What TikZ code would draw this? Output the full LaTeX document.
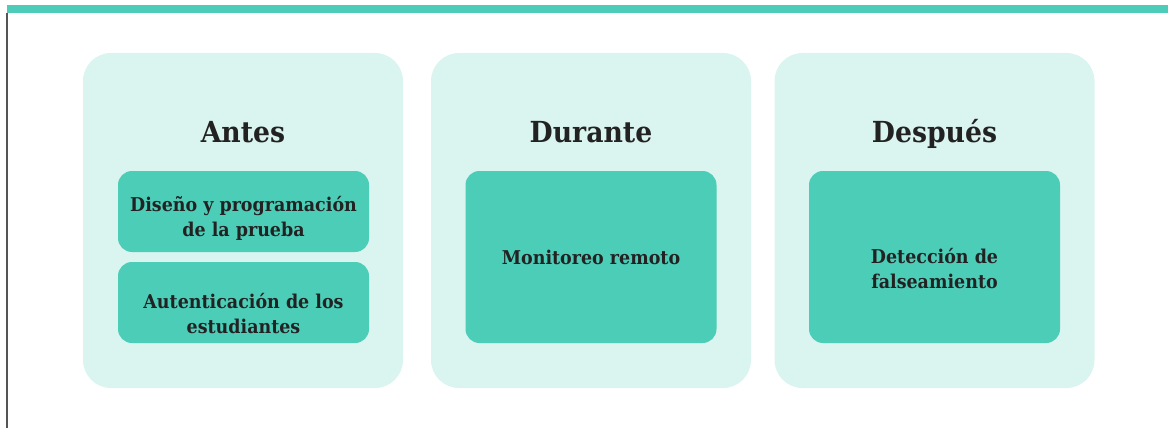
\documentclass[tikz,border=0pt]{standalone}
\usepackage{fontspec}
\newfontfamily\slab[FakeStretch=0.92]{DejaVu Serif}
\definecolor{teal}{HTML}{4DCDB9}
\definecolor{panelbg}{HTML}{DAF4EF}
\definecolor{cardbg}{HTML}{4BCDB8}
\definecolor{ink}{HTML}{222222}
\definecolor{rule}{HTML}{555555}
\tikzset{
  panel/.style={fill=panelbg, rounded corners=28pt, minimum width=320pt, minimum height=335pt, inner sep=0pt},
  card/.style={fill=cardbg, rounded corners=14pt, minimum width=251pt, inner sep=0pt},
  heading/.style={text=ink, font=\slab\bfseries\fontsize{29}{34}\selectfont, anchor=base, inner sep=0pt},
  cardtext/.style={text=ink, font=\slab\bfseries\fontsize{19}{25}\selectfont, align=center, inner sep=0pt}
}
\begin{document}
\begin{tikzpicture}[x=1pt, y=-1pt]
  \useasboundingbox (0,0) rectangle (1168,428);
  % top band and left rule
  \fill[teal] (7,5) rectangle (1168,13);
  \draw[rule, line width=1.5pt] (7,13) -- (7,428);

  % three phase panels
  \node[panel] (p1) at (243,220.5) {};
  \node[panel] (p2) at (591,220.5) {};
  \node[panel] (p3) at (934.5,220.5) {};

  \node[heading] (t1) at (243,142) {Antes};
  \node[heading] (t2) at (591,142) {Durante};
  \node[heading] (t3) at (934.5,142) {Después};

  % cards
  \node[card, minimum height=81pt] (c1) at (243.5,211.5) {};
  \node[card, minimum height=81pt] (c2) at (243.5,302.5) {};
  \node[card, minimum height=172pt] (c3) at (591,257) {};
  \node[card, minimum height=172pt] (c4) at (934.5,257) {};

  \node[cardtext] (l1) at ([yshift=-7pt]c1.center) {Diseño y programación\\de la prueba};
  \node[cardtext] (l2) at ([yshift=-11pt]c2.center) {Autenticación de los\\estudiantes};
  \node[cardtext] (l3) at (c3.center) {Monitoreo remoto};
  \node[cardtext] (l4) at ([yshift=-12pt]c4.center) {Detección de\\falseamiento};
\end{tikzpicture}
\end{document}
